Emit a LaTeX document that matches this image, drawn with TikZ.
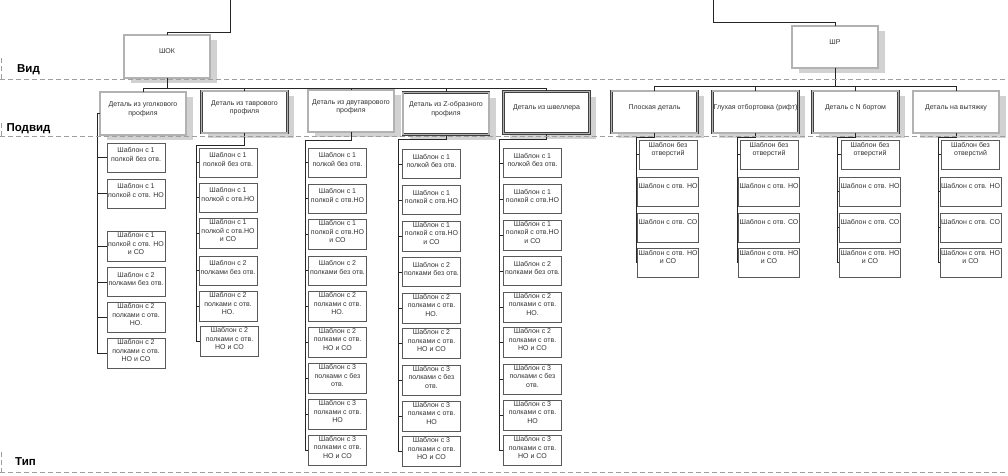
\documentclass[tikz,border=0pt]{standalone}
\usepackage{fontspec}
\setmainfont{Liberation Sans}
\usetikzlibrary{shadows}
\begin{document}
\begin{tikzpicture}[x=1pt,y=-1pt,
  lvl/.style={rectangle, draw=black!75, double=gray!60, double distance=1.4pt, line width=0.65pt,
    fill=white, minimum width=86pt, minimum height=42pt, inner sep=1pt, align=center,
    font=\fontsize{7}{8.5}\selectfont, text=black!80, text depth=10pt,
    drop shadow={shadow xshift=6.5pt, shadow yshift=-5pt, fill=gray!35, opacity=1}},
  tpl/.style={rectangle, draw=black!65, line width=0.6pt, fill=white,
    minimum width=58pt, minimum height=29pt, inner sep=1pt, align=center,
    font=\fontsize{7}{8.5}\selectfont, text=black!80, text depth=6pt},
  tplr/.style={tpl, text depth=11pt},
  conn/.style={draw=black!85, line width=0.7pt},
  dline/.style={draw=gray!75, line width=0.8pt, dash pattern=on 5pt off 3pt},
  lab/.style={font=\fontsize{11.5}{13}\selectfont\bfseries, text=black}
]
\useasboundingbox (0,0) rectangle (1008,475);

\node[lab] (lvid) at (28.5,70) {Вид};
\node[lab] (lpodvid) at (28.5,129) {Подвид};
\node[lab] (ltip) at (25.5,462) {Тип};

% level 1
\node[lvl, minimum height=43pt] (shok) at (167,56.5) {ШОК};
\node[lvl] (shr) at (835,47) {ШР};
\coordinate (topL) at (230,0);
\coordinate (topR) at (713,0);
\draw[conn] (topL) -- ++(0,32) -| (shok.north);
\draw[conn] (topR) -- ++(0,22) -| (shr.north);

% level 2
\node[lvl, minimum height=43pt] (ug) at (143,113.5) {Деталь из уголкового\\профиля};
\node[lvl] (tv) at (244.5,112) {Деталь из таврового\\профиля};
\node[lvl] (dv) at (351,111) {Деталь из двутаврового\\профиля};
\node[lvl] (zz) at (446,113.5) {Деталь из Z-образного\\профиля};
\node[lvl] (sh) at (546.5,112.5) {Деталь из швеллера};
\node[lvl] (pl) at (654.5,112) {Плоская деталь};
\node[lvl] (gl) at (755.5,112) {Глухая отбортовка (рифт)};
\node[lvl] (nb) at (855.5,112) {Деталь с N бортом};
\node[lvl] (vt) at (956,112) {Деталь на вытяжку};

\draw[conn] (shok.south) -- ++(0,10) coordinate (shokbus);
\foreach \p in {ug,tv,dv,zz,sh} \draw[conn] (shokbus) -| (\p.north);
\draw[conn] (shr.south) -- ++(0,18) coordinate (shrbus);
\foreach \p in {pl,gl,nb,vt} \draw[conn] (shrbus) -| (\p.north);

% level 3: уголкового
\foreach \i/\yc/\t in {
  1/157.5/{Шаблон с 1\\полкой без отв.},
  2/193.5/{Шаблон с 1\\полкой с отв. НО},
  3/246.5/{Шаблон с 1\\полкой с отв. НО\\и СО},
  4/282/{Шаблон с 2\\полками без отв.},
  5/317.5/{Шаблон с 2\\полками  с отв.\\НО.},
  6/353.5/{Шаблон с 2\\полками с отв.\\НО и СО}}
  {\node[tpl] (ug\i) at (136,\yc) {\t};}
\coordinate (ugV) at (97,113.5);
\draw[conn] (ug.west) -- (ugV);
\foreach \i in {1,...,6} \draw[conn] (ugV) |- (ug\i.west);

% level 3: таврового
\foreach \i/\xc/\yc/\t in {
  1/228/162.5/{Шаблон с 1\\полкой без отв.},
  2/228/197.5/{Шаблон с 1\\полкой с отв.НО},
  3/228/233.5/{Шаблон с 1\\полкой с отв.НО\\и СО},
  4/228/270.5/{Шаблон с 2\\полками без отв.},
  5/228/306.5/{Шаблон с 2\\полками  с отв.\\НО.},
  6/229.5/341.5/{Шаблон с 2\\полками с отв.\\НО и СО}}
  {\node[tpl] (tv\i) at (\xc,\yc) {\t};}
\coordinate (tvV) at (196,145);
\draw[conn] (tv.south) |- (tvV);
\foreach \i in {1,...,6} \draw[conn] (tvV) |- (tv\i.west);

% level 3: двутаврового, Z-образного, швеллера
\foreach \col/\cx/\dy in {dv/337.5/0, zz/431.5/1.5, sh/532.5/0.5} {
  \foreach \i/\yc/\t in {
    1/162.5/{Шаблон с 1\\полкой без отв.},
    2/198.5/{Шаблон с 1\\полкой с отв.НО},
    3/234.5/{Шаблон с 1\\полкой с отв.НО\\и СО},
    4/270.5/{Шаблон с 2\\полками без отв.},
    5/306.5/{Шаблон с 2\\полками  с отв.\\НО.},
    6/342/{Шаблон с 2\\полками с отв.\\НО и СО},
    7/378.5/{Шаблон с 3\\полками с без\\отв.},
    8/414.5/{Шаблон с 3\\полками с отв.\\НО},
    9/450/{Шаблон с 3\\полками с отв.\\НО и СО}}
    {\node[tpl] (\col\i) at (\cx,{\yc+\dy}) {\t};}
}
\foreach \col/\vx/\jy in {dv/305/140, zz/398/139, sh/499/139} {
  \coordinate (\col V) at (\vx,\jy);
  \draw[conn] (\col.south) |- (\col V);
  \foreach \i in {1,...,9} \draw[conn] (\col V) |- (\col\i.west);
}

% level 3: right group
\foreach \col/\cx/\vx in {pl/668/636, gl/769/737, nb/870/837, vt/970.5/938} {
  \foreach \i/\yc/\t in {
    1/154.5/{Шаблон без\\отверстий},
    2/191.5/{Шаблон с отв. НО},
    3/227.5/{Шаблон с отв. СО},
    4/262.5/{Шаблон с отв. НО\\и СО}}
    {\node[tplr] (\col\i) at (\cx,\yc) {\t};}
  \coordinate (\col V) at (\vx,137);
  \draw[conn] (\col.south) |- (\col V);
  \foreach \i in {1,...,4} \draw[conn] (\col V) |- (\col\i.west);
}

% level dashed lines (drawn over the shadows)
\draw[dline] (0,79) -- (1008,79);
\draw[dline] (0,136) -- (1008,136);
\draw[dline] (0,472) -- (1008,472);
\draw[dline] (1,58) -- (1,79);
\draw[dline] (1,123) -- (1,136);
\draw[dline] (1,452) -- (1,472);
\end{tikzpicture}
\end{document}
